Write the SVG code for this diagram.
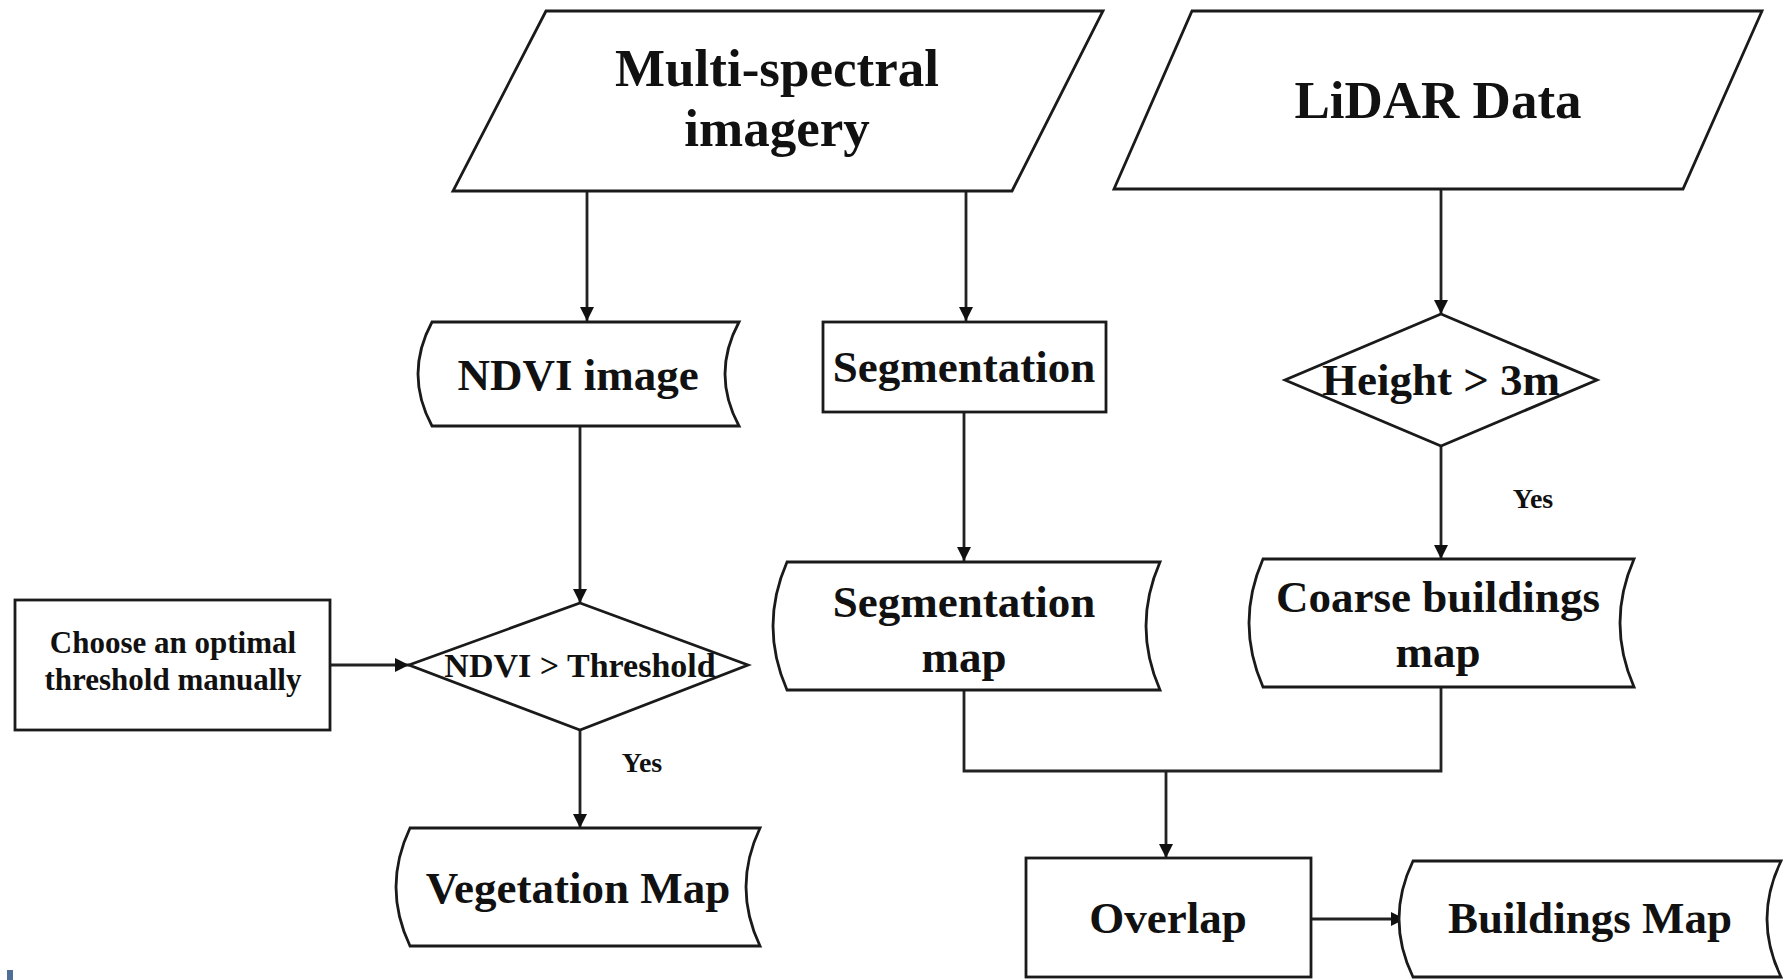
<svg xmlns="http://www.w3.org/2000/svg" width="1783" height="980" viewBox="0 0 1783 980">
<defs>
<marker id="arr" viewBox="0 0 10 10" refX="10" refY="5" markerWidth="5" markerHeight="5" orient="auto" markerUnits="strokeWidth">
<path d="M0,0 L10,5 L0,10 z" fill="#111"/>
</marker>
<style>
.shape{fill:#fff;stroke:#1a1a1a;stroke-width:2.8}
.t{font-family:"Liberation Serif","Times New Roman",serif;font-weight:bold;fill:#111;text-anchor:middle}
.big{font-size:53px}
.mid{font-size:45px}
.sm{font-size:31px}
.conn{fill:none;stroke:#222;stroke-width:2.8}
</style>
</defs>
<rect width="1783" height="980" fill="#fff"/>
<g id="connectors">
<path class="conn" d="M587 191 V321" marker-end="url(#arr)"/>
<path class="conn" d="M966 191 V321" marker-end="url(#arr)"/>
<path class="conn" d="M1441 189 V314" marker-end="url(#arr)"/>
<path class="conn" d="M580 426 V603" marker-end="url(#arr)"/>
<path class="conn" d="M330 665 H409" marker-end="url(#arr)"/>
<path class="conn" d="M580 730 V828" marker-end="url(#arr)"/>
<path class="conn" d="M964 412 V561" marker-end="url(#arr)"/>
<path class="conn" d="M1441 446 V559" marker-end="url(#arr)"/>
<path class="conn" d="M964 690 V771 H1441 V687"/>
<path class="conn" d="M1166 771 V858" marker-end="url(#arr)"/>
<path class="conn" d="M1311 919 H1405" marker-end="url(#arr)"/>
<text class="t" x="642" y="772" font-size="28">Yes</text>
<text class="t" x="1533" y="508" font-size="28">Yes</text>
</g>
<g id="multispectral">
<polygon class="shape" points="546,11 1103,11 1012,191 453,191"/>
<text class="t big" x="777" y="86">Multi-spectral</text>
<text class="t big" x="777" y="146">imagery</text>
</g>
<g id="lidar">
<polygon class="shape" points="1192,11 1762,11 1683,189 1114,189"/>
<text class="t big" x="1438" y="118">LiDAR Data</text>
</g>
<g id="ndvi-image">
<path class="shape" d="M432 322 H739 Q711 374 739 426 H432 Q404 374 432 322 Z"/>
<text class="t mid" x="578" y="390">NDVI image</text>
</g>
<g id="segmentation">
<rect class="shape" x="823" y="322" width="283" height="90"/>
<text class="t mid" x="964" y="382">Segmentation</text>
</g>
<g id="height">
<polygon class="shape" points="1441,314 1597,380 1441,446 1285,380"/>
<text class="t mid" x="1441" y="395">Height &gt; 3m</text>
</g>
<g id="choose">
<rect class="shape" x="15" y="600" width="315" height="130"/>
<text class="t sm" x="173" y="653">Choose an optimal</text>
<text class="t sm" x="173" y="690">threshold manually</text>
</g>
<g id="ndvi-threshold">
<polygon class="shape" points="580,603 748,665 580,730 409,665"/>
<text class="t" x="580" y="677" font-size="34">NDVI &gt; Threshold</text>
</g>
<g id="vegetation">
<path class="shape" d="M410 828 H760 Q732 887 760 946 H410 Q382 887 410 828 Z"/>
<text class="t mid" x="578" y="903">Vegetation Map</text>
</g>
<g id="segmentation-map">
<path class="shape" d="M787 562 H1160 Q1132 626 1160 690 H787 Q759 626 787 562 Z"/>
<text class="t mid" x="964" y="617">Segmentation</text>
<text class="t mid" x="964" y="672">map</text>
</g>
<g id="coarse">
<path class="shape" d="M1263 559 H1634 Q1606 623 1634 687 H1263 Q1235 623 1263 559 Z"/>
<text class="t mid" x="1438" y="612">Coarse buildings</text>
<text class="t mid" x="1438" y="667">map</text>
</g>
<g id="overlap">
<rect class="shape" x="1026" y="858" width="285" height="119"/>
<text class="t mid" x="1168" y="933">Overlap</text>
</g>
<g id="buildings-map">
<path class="shape" d="M1413 861 H1781 Q1753 919 1781 977 H1413 Q1385 919 1413 861 Z"/>
<text class="t mid" x="1590" y="933">Buildings Map</text>
</g>
<rect x="7" y="970" width="6" height="10" fill="#4f6f96"/>
</svg>
